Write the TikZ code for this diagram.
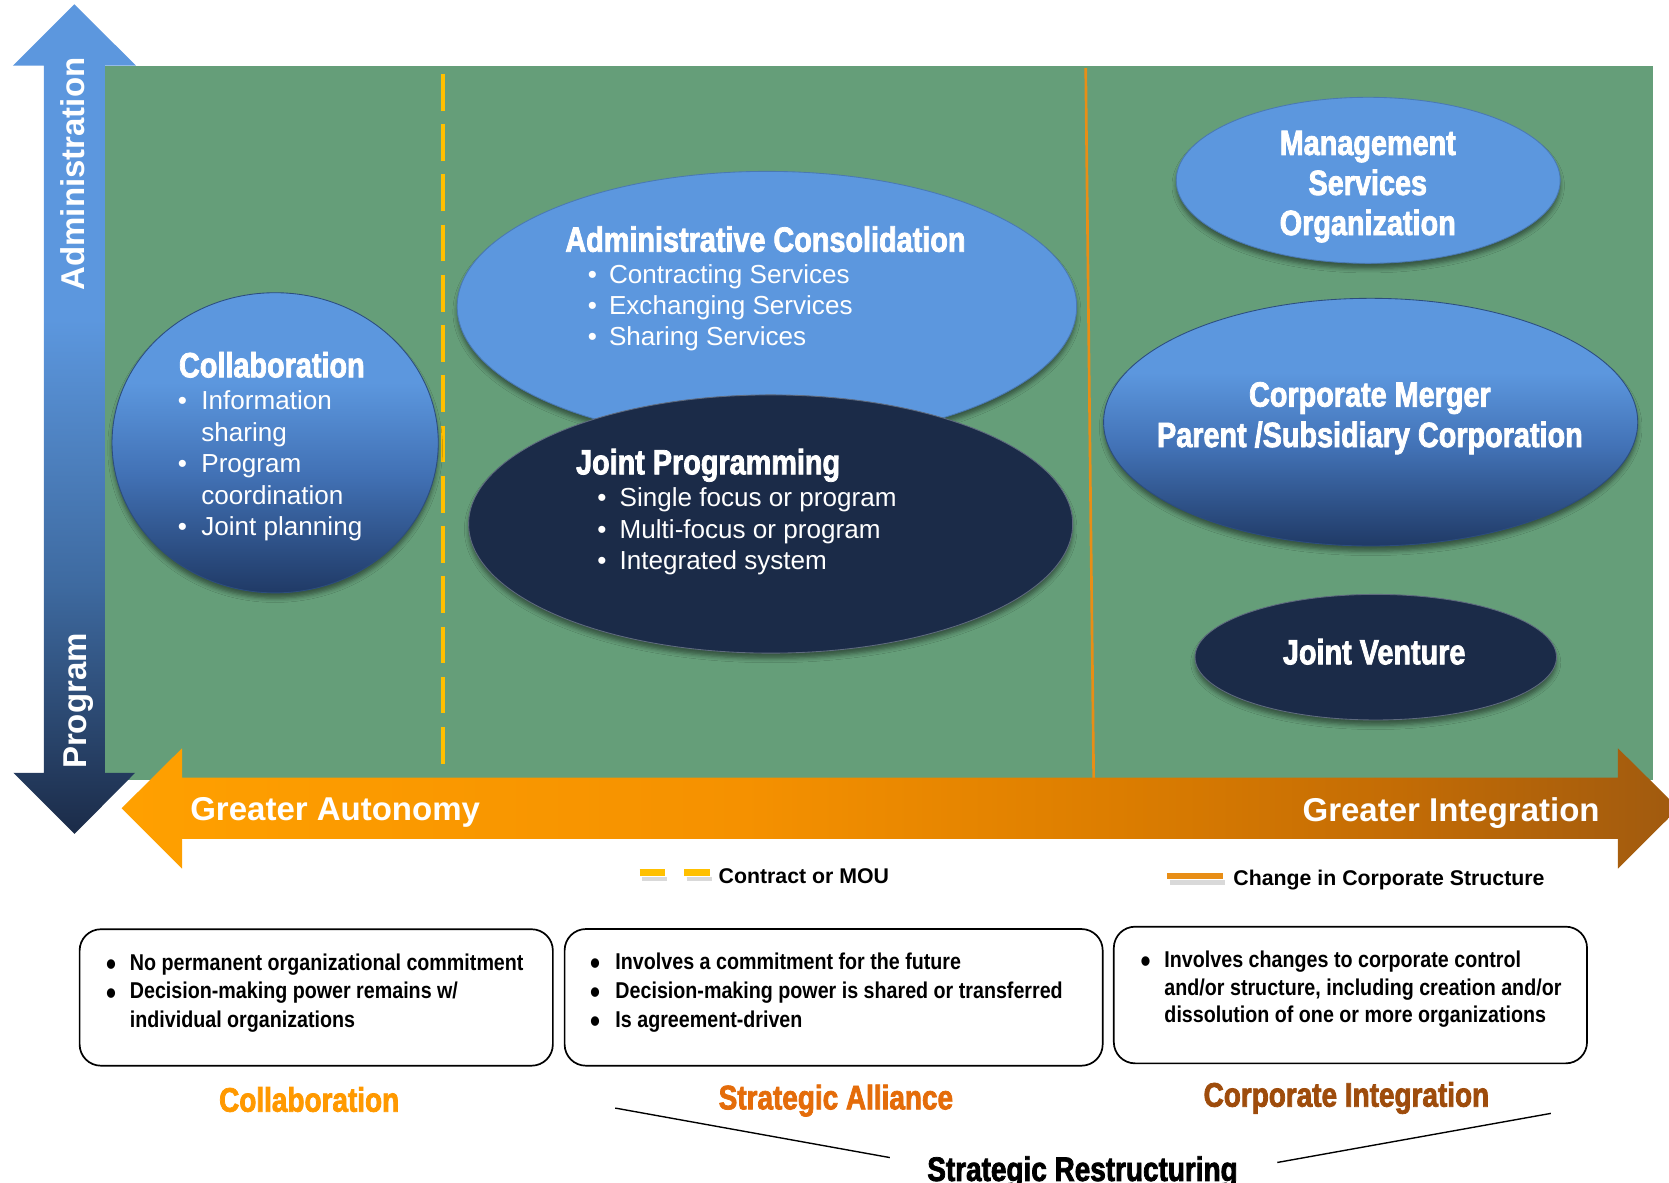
\documentclass[tikz,border=0pt]{standalone}
\usepackage{fontspec}
\usepackage{graphicx}
\setmainfont{Liberation Sans}
\newfontfamily\headfont[FakeStretch=0.82,FakeBold=2.2]{Liberation Sans}
\newfontfamily\narrowfont[FakeStretch=0.86]{Liberation Sans}
\usetikzlibrary{shapes.geometric,shadows.blur}

\definecolor{fieldgreen}{RGB}{101,158,121}
\definecolor{skyblue}{RGB}{92,151,222}
\definecolor{midblue}{RGB}{62,106,160}
\definecolor{globemid}{RGB}{66,114,182}
\definecolor{deepblue}{RGB}{32,58,102}
\definecolor{navyblue}{RGB}{27,43,72}
\definecolor{dashyellow}{RGB}{255,192,0}
\definecolor{corporange}{RGB}{232,142,22}
\definecolor{arrowA}{RGB}{255,160,0}
\definecolor{arrowB}{RGB}{245,145,0}
\definecolor{arrowC}{RGB}{220,125,0}
\definecolor{arrowD}{RGB}{195,108,5}
\definecolor{arrowE}{RGB}{160,90,15}
\definecolor{labelA}{RGB}{255,153,0}
\definecolor{labelB}{RGB}{228,108,10}
\definecolor{labelC}{RGB}{158,76,12}

\pgfdeclareverticalshading{axisfade}{100bp}{color(0bp)=(navyblue); color(25bp)=(navyblue); color(40bp)=(midblue); color(56bp)=(skyblue); color(100bp)=(skyblue)}
\pgfdeclarehorizontalshading{scalefade}{100bp}{color(0bp)=(arrowA); color(25bp)=(arrowA); color(45bp)=(arrowB); color(57bp)=(arrowC); color(66bp)=(arrowD); color(75bp)=(arrowE); color(100bp)=(arrowE)}
\pgfdeclareverticalshading{globefade}{100bp}{color(0bp)=(deepblue); color(25bp)=(deepblue); color(45bp)=(globemid); color(60bp)=(skyblue); color(100bp)=(skyblue)}

\newcommand\itemstack[1]{\vtop{\halign{##\hfil\cr#1\crcr}}}
\newcommand\centerstack[1]{\vtop{\halign{\hfil##\hfil\cr#1\crcr}}}
\newcommand\bul[1]{\makebox[#1][l]{\textbullet}}
\newcommand\bigbul[1]{\makebox[#1][l]{\smash{\raisebox{-5pt}{\scalebox{1.45}{\textbullet}}}}}
\newcommand\skipbul[1]{\hspace*{#1}}

\tikzset{
  bubble/.style={ellipse, inner sep=0pt, line width=0.8pt,
    blur shadow={shadow xshift=0pt, shadow yshift=-5pt, shadow blur radius=4pt, shadow opacity=45}},
  lightbubble/.style={bubble, fill=skyblue, draw=skyblue!80!black},
  globebubble/.style={bubble, shading=globefade, draw=deepblue!80!skyblue},
  darkbubble/.style={bubble, fill=navyblue, draw=navyblue!70!white},
  headtxt/.style={font={\headfont\bfseries\fontsize{33}{38}\selectfont}, text=white, inner sep=0pt, anchor=base west},
  bodytxt/.style={font={\fontsize{24.5}{29.5}\selectfont}, text=white, inner sep=0pt, anchor=base west},
  boxtxt/.style={font={\narrowfont\bfseries\fontsize{21.5}{27}\selectfont}, inner sep=0pt, anchor=base west},
  labeltxt/.style={font={\headfont\bfseries\fontsize{32}{36}\selectfont}, inner sep=0pt, anchor=base west},
  legendtxt/.style={font={\bfseries\fontsize{20}{24}\selectfont}, inner sep=0pt, anchor=base west},
  axistxt/.style={font={\bfseries\fontsize{31}{36}\selectfont}, text=white, inner sep=0pt},
  infobox/.style={draw, line width=1.6pt, rounded corners=20pt, inner sep=0pt},
  contractline/.style={dashyellow, line width=3.8pt, dash pattern=on 34.4pt off 12.8pt},
  corpline/.style={corporange, line width=2.5pt}
}

\begin{document}
\begin{tikzpicture}[x=1pt,y=-1pt]
\useasboundingbox (0,0) rectangle (1568,1111);
\fill[fieldgreen] (98.5,62) rectangle (1553,733);
\draw[contractline] (416.5,69.5) -- (416.5,718);
\draw[corpline] (1020,64) -- (1027.5,732);
\shade[shading=axisfade] (69.8,4) -- (127.8,61.7) -- (98.5,61.7) -- (98.5,726) -- (127,726) -- (70,783.5)
  -- (12.6,726) -- (41.3,726) -- (41.3,61.7) -- (12.2,61.7) -- cycle;
\shade[shading=scalefade] (114.3,759.3) -- (171,703) -- (171,730.6) -- (1520,730.6) -- (1520,703) -- (1577,759.3)
  -- (1520,816) -- (1520,788) -- (171,788) -- (171,816) -- cycle;

\node[axistxt, rotate=90, anchor=base] (admintxt) at (79.5,163.5) {Administration};
\node[axistxt, rotate=90, anchor=base] (progtxt) at (81,658.6) {Program};
\node[axistxt, anchor=base west] (autonomy) at (178.6,771) {Greater Autonomy};
\node[axistxt, anchor=base east] (integration) at (1503,772) {Greater Integration};

\node[globebubble, minimum width=306.5pt, minimum height=282pt] (collab) at (258.5,416) {};
\node[lightbubble, minimum width=582pt, minimum height=254pt] (admincons) at (720.5,288) {};
\node[darkbubble, minimum width=567.5pt, minimum height=242.6pt] (jointprog) at (724,492.3) {};
\node[lightbubble, minimum width=360.7pt, minimum height=156pt] (mso) at (1285.4,169.4) {};
\node[globebubble, minimum width=501.8pt, minimum height=232.7pt] (merger) at (1287.7,396.6) {};
\node[darkbubble, minimum width=339.6pt, minimum height=118pt] (venture) at (1292.5,617.4) {};

\node[headtxt] (collabhead) at (168,354.5) {Collaboration};
\node[bodytxt] (collabitems) at (167,385) {\itemstack{\bul{22pt}Information\cr\skipbul{22pt}sharing\cr
  \bul{22pt}Program\cr\skipbul{22pt}coordination\cr\bul{22pt}Joint planning}};
\node[headtxt] (adminhead) at (531,236.5) {Administrative Consolidation};
\node[bodytxt, font={\fontsize{24.5}{29}\selectfont}] (adminitems) at (552,266.8) {\itemstack{\bul{20pt}Contracting Services\cr
  \bul{20pt}Exchanging Services\cr\bul{20pt}Sharing Services}};
\node[headtxt] (jointhead) at (541,445.6) {Joint Programming};
\node[bodytxt] (jointitems) at (561,476) {\itemstack{\bul{21pt}Single focus or program\cr
  \bul{21pt}Multi-focus or program\cr\bul{21pt}Integrated system}};
\node[headtxt, anchor=base, font={\headfont\bfseries\fontsize{33}{37.6}\selectfont}] (msotxt) at (1285,145.6)
  {\centerstack{Management\cr Services\cr Organization}};
\node[headtxt, anchor=base] (mergertxt) at (1287,382) {\centerstack{Corporate Merger\cr Parent /Subsidiary Corporation}};
\node[headtxt, anchor=base] (venturetxt) at (1291,624.1) {Joint Venture};

\draw[gray!30, line width=4pt] (603,826) -- (627,826) (645,826) -- (669,826);
\draw[dashyellow, line width=6pt] (601,819.7) -- (624.6,819.7) (642.6,819.7) -- (666.7,819.7);
\node[legendtxt] (mou) at (675,829.9) {Contract or MOU};
\draw[gray!30, line width=4pt] (1099,829) -- (1151,829);
\draw[corporange, line width=5.3pt] (1096.5,823) -- (1148.6,823);
\node[legendtxt] (corpchange) at (1158.6,832.1) {Change in Corporate Structure};

\node[infobox, minimum width=444.6pt, minimum height=128.2pt] (boxA) at (297.1,937.1) {};
\node[infobox, minimum width=505.5pt, minimum height=128.4pt] (boxB) at (783.2,937) {};
\node[infobox, minimum width=444.6pt, minimum height=128.4pt] (boxC) at (1268.7,934.8) {};
\node[boxtxt] (boxAtxt) at (99.6,911.3) {\itemstack{\bigbul{22.2pt}No permanent organizational commitment\cr
  \bigbul{22.2pt}Decision-making power remains w/\cr\skipbul{22.2pt}individual organizations}};
\node[boxtxt, font={\narrowfont\bfseries\fontsize{21.5}{27.5}\selectfont}] (boxBtxt) at (554.3,910.4) {\itemstack{\bigbul{23.7pt}Involves a commitment for the future\cr
  \bigbul{23.7pt}Decision-making power is shared or transferred\cr\bigbul{23.7pt}Is agreement-driven}};
\node[boxtxt, font={\narrowfont\bfseries\fontsize{21.5}{26}\selectfont}] (boxCtxt) at (1071.3,908.8) {\itemstack{\bigbul{22.5pt}Involves changes to corporate control\cr
  \skipbul{22.5pt}and/or structure, including creation and/or\cr\skipbul{22.5pt}dissolution of one or more organizations}};

\node[labeltxt, text=labelA] (collablabel) at (205.7,1044.4) {Collaboration};
\node[labeltxt, text=labelB] (alliance) at (675,1042.2) {Strategic Alliance};
\node[labeltxt, text=labelC] (corpint) at (1130.6,1039.7) {Corporate Integration};
\node[labeltxt] (restr) at (871,1109.5) {Strategic Restructuring};
\coordinate (restrL) at (578,1041);
\coordinate (restrR) at (1457,1046);
\draw[line width=1.3pt] (restrL) -- ([xshift=-35pt,yshift=-1.4pt]restr.north west);
\draw[line width=1.3pt] (restrR) -- ([xshift=37pt,yshift=-6pt]restr.north east);
\end{tikzpicture}
\end{document}
